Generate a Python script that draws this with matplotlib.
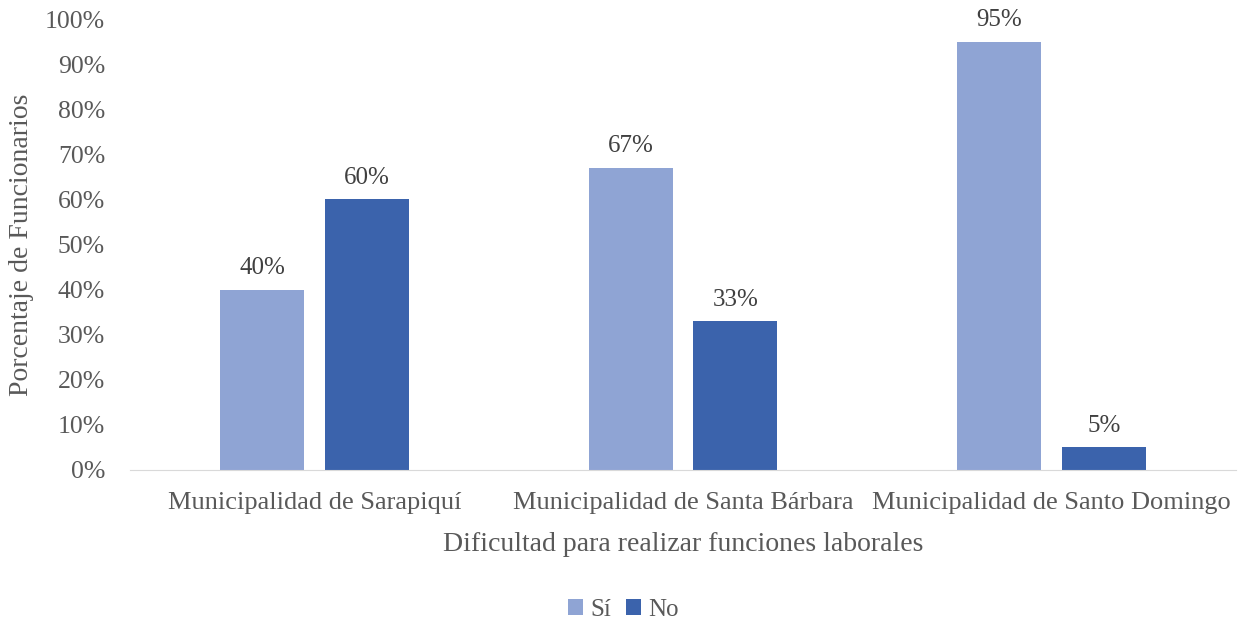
import numpy as np
import matplotlib.pyplot as plt

plt.rcParams['font.family'] = ['Liberation Serif', 'DejaVu Serif']

categorias = ['Municipalidad de Sarapiquí', 'Municipalidad de Santa Bárbara', 'Municipalidad de Santo Domingo']
si = [40, 67, 95]
no = [60, 33, 5]

c_si = '#8FA4D4'
c_no = '#3B63AC'
gris = '#595959'

fig = plt.figure(figsize=(12.47, 6.26), dpi=100)
ax = fig.add_axes([130 / 1247, 1 - 470 / 626, 1106 / 1247, 451 / 626])

x = np.arange(len(categorias))
w = 0.228
b1 = ax.bar(x - 0.142, si, w, color=c_si, label='Sí')
b2 = ax.bar(x + 0.142, no, w, color=c_no, label='No')

for barras in (b1, b2):
    for b in barras:
        ax.text(b.get_x() + b.get_width() / 2, b.get_height() + 2.3, f'{b.get_height():.0f}%',
                ha='center', va='bottom', fontsize=18, color='#404040')

ax.set_xlim(-0.5, 2.5)
ax.set_ylim(0, 100)
ax.set_yticks(range(0, 101, 10))
ax.set_yticklabels([f'{v}%' for v in range(0, 101, 10)])
ax.set_xticks(x)
ax.set_xticklabels(categorias)
ax.tick_params(axis='both', length=0, labelsize=18.5, labelcolor=gris)
ax.tick_params(axis='x', labelsize=19, pad=16)
ax.tick_params(axis='y', pad=18)

for s in ['top', 'right', 'left']:
    ax.spines[s].set_visible(False)
ax.spines['bottom'].set_color('#D9D9D9')

fig.text(22 / 1247, 1 - 245 / 626, 'Porcentaje de Funcionarios', rotation=90,
         ha='center', va='center', fontsize=20, color=gris)
ax.set_xlabel('Dificultad para realizar funciones laborales', fontsize=20, color=gris, labelpad=13)

fig.legend(loc='center', bbox_to_anchor=(0.5, 1 - 610 / 626), ncol=2, frameon=False,
           fontsize=18, labelcolor=gris, handlelength=0.6, handleheight=0.6,
           handletextpad=0.3, columnspacing=0.6)

fig.savefig('out.png', dpi=100)
